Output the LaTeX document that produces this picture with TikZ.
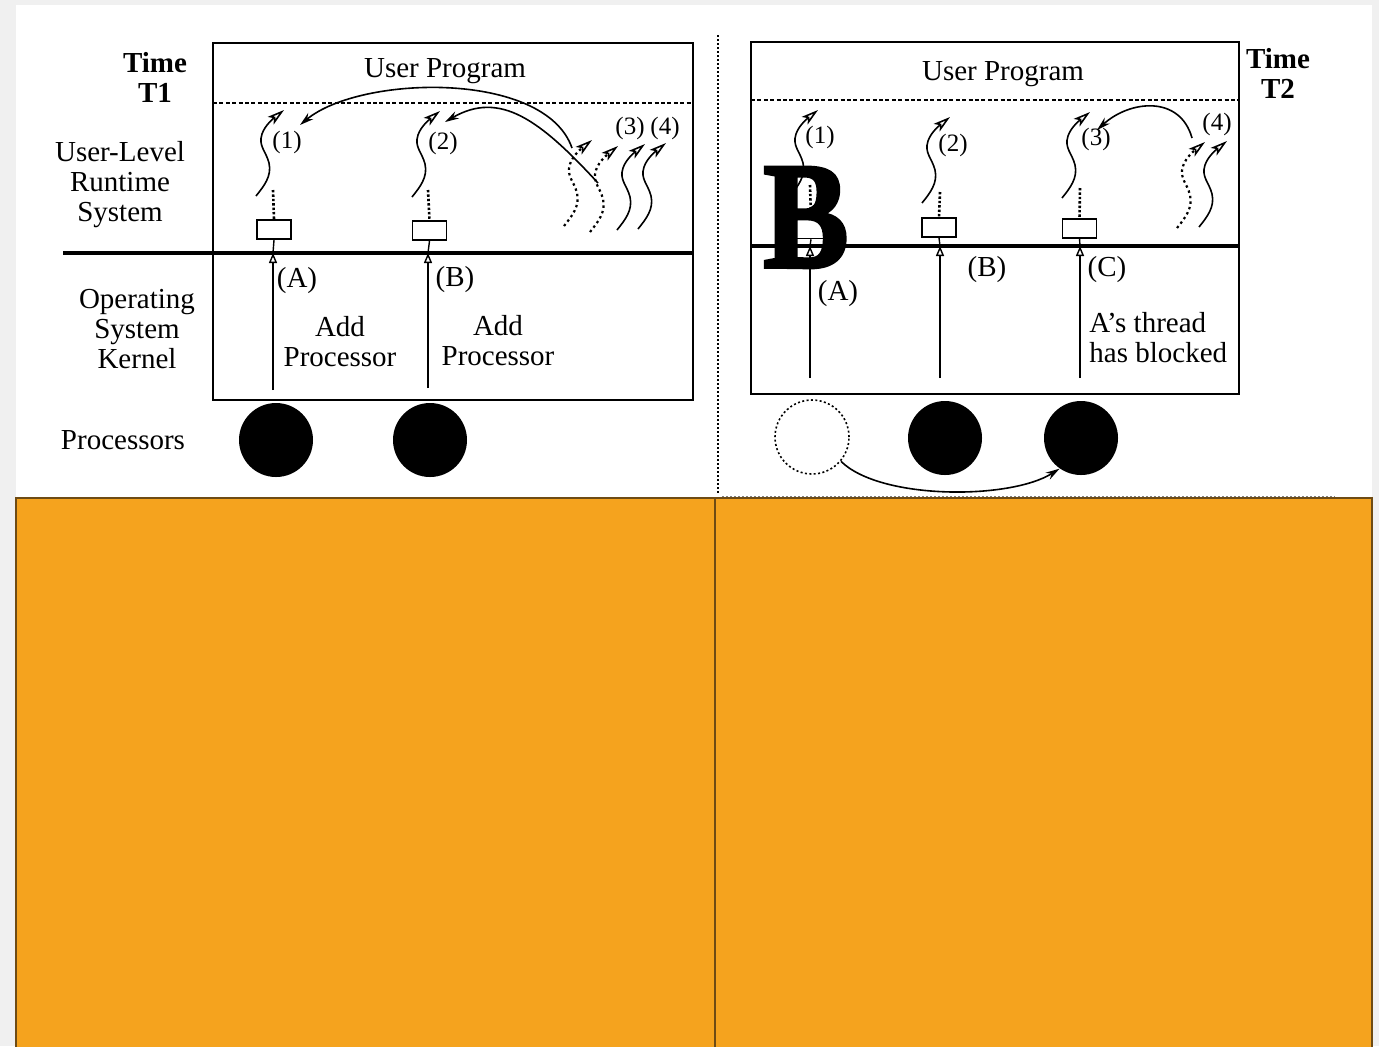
\documentclass[tikz,border=0pt]{standalone}
\usepackage{fontspec}
\setmainfont{Liberation Serif}
\newfontfamily\heavyserif[FakeBold=2.5]{Liberation Serif Bold}
\usetikzlibrary{arrows.meta, positioning, calc}
\definecolor{pagegray}{HTML}{F0F0F0}
\definecolor{panelorange}{HTML}{F5A31E}
\definecolor{panelbrown}{HTML}{6E4B14}
\tikzset{
  lbl/.style={font=\fontsize{14.5}{15}\selectfont, align=center, inner sep=0pt},
  ttl/.style={font=\fontsize{14.5}{15}\selectfont\bfseries, align=center, inner sep=0pt},
  num/.style={font=\fontsize{12.5}{13}\selectfont, inner sep=0pt},
  kbox/.style={draw, fill=white, line width=0.8pt, minimum width=17pt, minimum height=9.5pt, inner sep=0pt},
  proc/.style={circle, fill=black, minimum size=37pt, inner sep=0pt},
  idle/.style={circle, draw, line width=0.8pt, dash pattern=on 1pt off 1.2pt, minimum size=37pt, inner sep=0pt},
  frame/.style={line width=1pt},
  layer/.style={line width=0.7pt, dash pattern=on 2pt off 1.2pt},
  sep/.style={line width=1.6pt},
  kline/.style={line width=0.7pt},
  kup/.style={kline, -{Triangle[open, length=5pt, width=4pt, line width=0.7pt]}},
  link/.style={line width=1.3pt, dash pattern=on 1.2pt off 1pt},
  strand/.style={line width=0.8pt},
  ghost/.style={line width=1.1pt, dash pattern=on 1.2pt off 1.6pt},
  hop/.style={line width=0.8pt, -{Stealth[length=7pt, width=4pt]}},
  orangebox/.style={fill=panelorange, draw=panelbrown, line width=1.3pt},
  thread/.pic={
    \draw[-{Stealth[open, length=8.5pt, width=4.8pt, inset=2pt, line width=0.8pt]}]
      (0,0) .. controls (8,-10) and (16,-20) .. (13,-33)
      .. controls (10,-45) and (2,-50) .. (6,-62)
      .. controls (9,-71) and (18,-78) .. (28,-86);
  }
}
\begin{document}
\begin{tikzpicture}[x=0.5pt, y=-0.5pt]
  \fill[pagegray] (0,0) rectangle (1379,1046);
  \useasboundingbox (0,0) rectangle (1379,1046);
  \fill[white] (16,5) rectangle (1372,498);

  % left panel: time T1
  \node[ttl] (t1) at (155,77) {Time\\T1};
  \node[lbl] (ulr) at (120,185) {User-Level\\Runtime\\System};
  \node[lbl] (osk) at (137,329) {Operating\\System\\Kernel};
  \node[lbl] (prl) at (123,440) {Processors};

  \draw[frame] (213,43) rectangle (693,400);
  \draw[layer] (213,103) -- (693,103);
  \node[lbl] (up1) at (445,71) {User Program};

  % kernel threads and their boxes
  \node[kbox] (bxA) at (274,229.5) {};
  \node[kbox] (bxB) at (429.5,230.5) {};
  \coordinate (jA) at (273,253);
  \coordinate (jB) at (428,253);
  \draw[kup] (273,390) -- (jA);
  \draw[kline] (jA) -- (bxA.south);
  \draw[kup] (428,388) -- (jB);
  \draw[kline] (jB) -- (bxB.south);
  \draw[sep] (63,253) -- (693,253);
  \draw[link] (273,190) -- (bxA.north);
  \draw[link] (428,190) -- (bxB.north);

  % user-level threads
  \pic[strand] at (256,196) {thread};
  \pic[strand] at (412,197) {thread};
  \pic[ghost] at (564,226) {thread};
  \pic[ghost] at (590,232) {thread};
  \pic[strand] at (617,230) {thread};
  \pic[strand] at (638,229) {thread};
  \node[num] (n1) at (287,142) {(1)};
  \node[num] (n2) at (443,143) {(2)};
  \node[num] (n3) at (630,128) {(3)};
  \node[num] (n4) at (665,128) {(4)};
  \draw[hop] (572,148) .. controls (545,70) and (360,75) .. (300,125);
  \draw[hop] (598,183) .. controls (540,120) and (500,90) .. (445,122);

  \node[lbl] (pa) at (297,281) {(A)};
  \node[lbl] (pb) at (455,280) {(B)};
  \node[lbl] (adA) at (340,342) {Add\\Processor};
  \node[lbl] (adB) at (498,341) {Add\\Processor};

  \node[proc] (cpA) at (276,440) {};
  \node[proc] (cpB) at (430,440) {};

  % divider
  \draw[line width=0.6pt, dash pattern=on 1pt off 1pt] (718,35) -- (718,495);
  \draw[gray, line width=0.5pt, dash pattern=on 1pt off 1pt] (722,496) -- (1335,496);

  % right panel: time T2
  \node[ttl] (t2) at (1278,73) {Time\\T2};
  \draw[frame] (751,42) rectangle (1239,394);
  \draw[layer] (751,100) -- (1239,100);
  \node[lbl] (up2) at (1003,74) {User Program};

  \node[kbox] (bxC) at (811,229) {};
  \node[kbox] (bxD) at (939,227.5) {};
  \node[kbox] (bxE) at (1079.5,228.5) {};
  \coordinate (jC) at (810,246);
  \coordinate (jD) at (940,246);
  \coordinate (jE) at (1080,246);
  \draw[kup] (810,378) -- (jC);
  \draw[kline] (jC) -- (bxC.south);
  \draw[kup] (940,378) -- (jD);
  \draw[kline] (jD) -- (bxD.south);
  \draw[kup] (1080,378) -- (jE);
  \draw[kline] (jE) -- (bxE.south);
  \draw[sep] (751,246) -- (1239,246);
  \draw[link] (810,185) -- (bxC.north);
  \draw[link] (940,192) -- (bxD.north);
  \draw[link] (1080,188) -- (bxE.north);

  \pic[strand] at (790,196) {thread};
  \pic[strand] at (922,203) {thread};
  \pic[strand] at (1062,198) {thread};
  \pic[ghost] at (1177,228) {thread};
  \pic[strand] at (1199,227) {thread};
  \node[num] (m1) at (820,137) {(1)};
  \node[num] (m2) at (953,145) {(2)};
  \node[num] (m3) at (1096,139) {(3)};
  \node[num] (m4) at (1217,124) {(4)};
  \draw[hop] (1192,138) .. controls (1180,95) and (1130,100) .. (1097,130);

  \node[lbl] (qa) at (838,294) {(A)};
  \node[lbl] (qb) at (987,270) {(B)};
  \node[lbl] (qc) at (1107,270) {(C)};
  \node[lbl, align=left, anchor=west] (blk) at (1089,338) {A's thread\\has blocked};

  \node[idle] (cpC) at (812,437) {};
  \node[proc] (cpD) at (945,438) {};
  \node[proc] (cpE) at (1081,438) {};
  \draw[hop] (cpC.-40) .. controls (880,500) and (1010,500) .. (cpE.-125);

  % blocked marker
  \node[font=\fontsize{76}{76}\selectfont\heavyserif, xscale=0.84, inner sep=0pt, text depth=0pt, anchor=base] (bmark) at (806,267) {B};

  % lower panels
  \draw[orangebox] (16,498) rectangle (715,1052);
  \draw[orangebox] (715,498) rectangle (1372,1052);
\end{tikzpicture}
\end{document}
